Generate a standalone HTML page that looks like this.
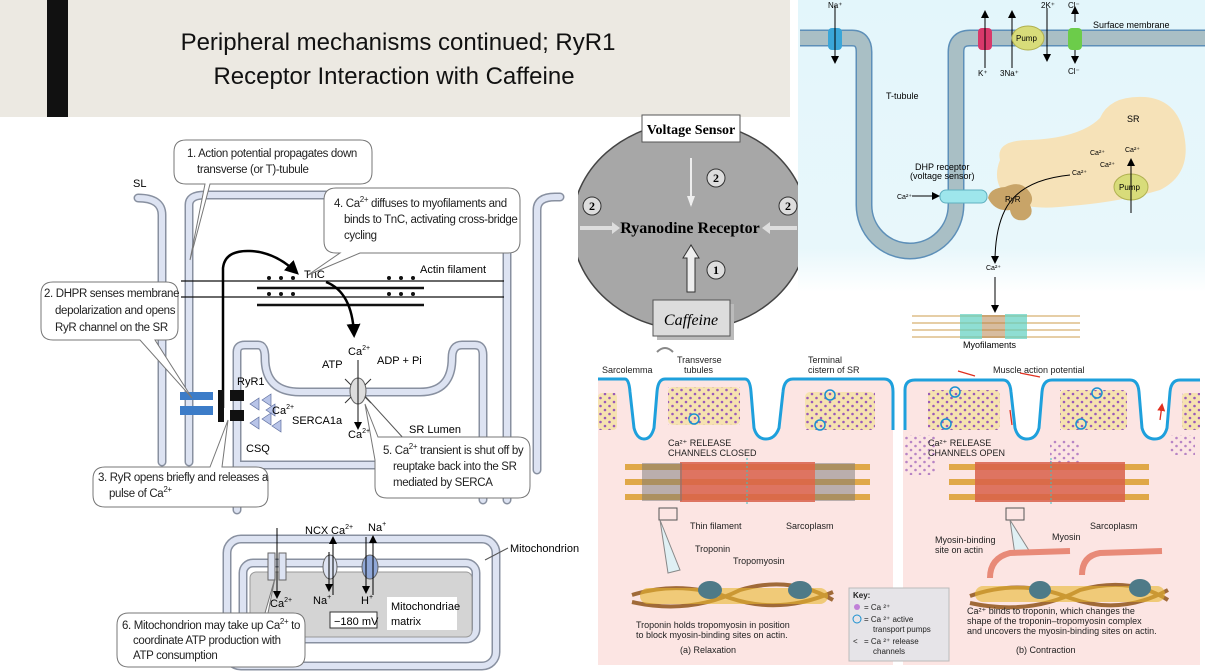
<!DOCTYPE html>
<html><head><meta charset="utf-8"><style>
html,body{margin:0;padding:0;background:#fff;}
svg{display:block;}
.t{font-family:"Liberation Sans",sans-serif;}
</style></head><body>
<svg width="1205" height="671" viewBox="0 0 1205 671" xmlns="http://www.w3.org/2000/svg" class="t">
<defs>
<linearGradient id="bl" x1="0" y1="0" x2="0" y2="1"><stop offset="0" stop-color="#e3f6fb"/><stop offset="0.85" stop-color="#e8f7fb"/><stop offset="1" stop-color="#ffffff"/></linearGradient>
<marker id="ah" markerWidth="8" markerHeight="8" refX="6" refY="4" orient="auto" markerUnits="userSpaceOnUse"><path d="M0,0 L8,4 L0,8 z" fill="#000"/></marker>
<marker id="ahb" markerWidth="14" markerHeight="14" refX="10" refY="7" orient="auto" markerUnits="userSpaceOnUse"><path d="M0,0 L14,7 L0,14 z" fill="#000"/></marker>
<marker id="ahr" markerWidth="8" markerHeight="8" refX="6" refY="4" orient="auto" markerUnits="userSpaceOnUse"><path d="M0,0 L8,4 L0,8 z" fill="#e03020"/></marker>
<pattern id="dots" width="9" height="8" patternUnits="userSpaceOnUse"><circle cx="2" cy="2" r="1.3" fill="#9a5ab8"/><circle cx="6.5" cy="6" r="1.3" fill="#9a5ab8"/></pattern>
</defs>

<rect x="798" y="0" width="407" height="292" fill="url(#bl)"/>
<path d="M800,38 L852,38 Q864,38 864,52 L864,205 A46,46 0 0 0 956,205 L956,52 Q956,38 970,38 L1205,38" fill="none" stroke="#5d8fb8" stroke-width="17"/>
<path d="M800,38 L852,38 Q864,38 864,52 L864,205 A46,46 0 0 0 956,205 L956,52 Q956,38 970,38 L1205,38" fill="none" stroke="#a9bfc5" stroke-width="14"/>
<rect x="828" y="28" width="14" height="22" rx="4" fill="#3aa6d8"/>
<line x1="835" y1="6" x2="835" y2="62" stroke="#000" marker-end="url(#ah)"/>
<text x="828" y="8" font-size="8">Na⁺</text>
<rect x="978" y="28" width="14" height="22" rx="4" fill="#d8386a"/>
<line x1="985" y1="68" x2="985" y2="12" stroke="#000" marker-end="url(#ah)"/>
<text x="978" y="76" font-size="8">K⁺</text>
<line x1="1012" y1="68" x2="1012" y2="12" stroke="#000" marker-end="url(#ah)"/>
<text x="1000" y="76" font-size="8">3Na⁺</text>
<ellipse cx="1028" cy="38" rx="16" ry="12" fill="#d8dc7a" stroke="#b0b050"/>
<text x="1016" y="41" font-size="8">Pump</text>
<line x1="1047" y1="8" x2="1047" y2="60" stroke="#000" marker-end="url(#ah)"/>
<text x="1041" y="8" font-size="8">2K⁺</text>
<rect x="1068" y="28" width="14" height="22" rx="4" fill="#6ccc4a"/>
<line x1="1075" y1="22" x2="1075" y2="8" stroke="#000" marker-end="url(#ah)"/>
<line x1="1075" y1="50" x2="1075" y2="62" stroke="#000" marker-end="url(#ah)"/>
<text x="1068" y="8" font-size="8">Cl⁻</text><text x="1068" y="74" font-size="8">Cl⁻</text>
<text x="1093" y="28" font-size="9">Surface membrane</text>
<text x="886" y="99" font-size="9">T-tubule</text>
<path d="M1000,160 Q995,140 1030,140 Q1080,138 1100,118 Q1110,95 1145,97 Q1180,100 1185,140 Q1190,175 1160,190 Q1120,202 1070,206 Q1020,212 1005,195 Q992,180 1000,160 z" fill="#f6e2b8"/>
<text x="1127" y="122" font-size="9">SR</text>
<text x="1090" y="155" font-size="7">Ca²⁺</text><text x="1125" y="152" font-size="7">Ca²⁺</text>
<text x="1100" y="167" font-size="7">Ca²⁺</text><text x="1072" y="175" font-size="7">Ca²⁺</text>
<ellipse cx="1131" cy="187" rx="17" ry="13" fill="#d8dc7a" stroke="#b0b050"/>
<text x="1119" y="190" font-size="8">Pump</text>
<line x1="1131" y1="213" x2="1131" y2="160" stroke="#000" marker-end="url(#ah)"/>
<rect x="940" y="190" width="47" height="13" rx="6" fill="#9ee6ec" stroke="#60b0c0"/>
<path d="M988,198 Q990,188 1005,187 Q1020,180 1028,190 Q1035,198 1030,205 Q1035,215 1025,220 Q1012,222 1010,210 Q995,212 988,198 z" fill="#c8a468"/>
<text x="1005" y="202" font-size="8">RyR</text>
<text x="915" y="170" font-size="9">DHP receptor</text><text x="910" y="179" font-size="9">(voltage sensor)</text>
<text x="897" y="199" font-size="7">Ca²⁺</text>
<line x1="912" y1="196" x2="938" y2="196" stroke="#000" marker-end="url(#ah)"/>
<path d="M1070,175 Q1020,180 1005,210 Q995,230 995,262" fill="none" stroke="#000" marker-end="url(#ah)"/>
<text x="986" y="270" font-size="7">Ca²⁺</text>
<line x1="995" y1="277" x2="995" y2="311" stroke="#000" marker-end="url(#ah)"/>
<g stroke-width="1.2">
<line x1="912" y1="316" x2="1080" y2="316" stroke="#d8b070"/><line x1="912" y1="323" x2="1080" y2="323" stroke="#d8b070"/>
<line x1="912" y1="330" x2="1080" y2="330" stroke="#d8b070"/><line x1="912" y1="337" x2="1080" y2="337" stroke="#d8b070"/>
</g>
<rect x="960" y="314" width="22" height="25" fill="#60d0c0" opacity="0.7"/><rect x="1005" y="314" width="22" height="25" fill="#60d0c0" opacity="0.7"/>
<rect x="982" y="315" width="23" height="23" fill="#b07a40" opacity="0.5"/>
<text x="963" y="348" font-size="9">Myofilaments</text>

<rect x="0" y="0" width="790" height="117" fill="#ece9e2"/>
<rect x="47" y="0" width="21" height="117" fill="#111"/>
<text x="398" y="50" font-size="24" text-anchor="middle" fill="#111">Peripheral mechanisms continued; RyR1</text>
<text x="394" y="84" font-size="24" text-anchor="middle" fill="#111">Receptor Interaction with Caffeine</text>

<rect x="578" y="117" width="220" height="222" fill="#fff"/>
<clipPath id="cm"><rect x="578" y="117" width="220" height="230"/></clipPath>
<g clip-path="url(#cm)">
<ellipse cx="690" cy="226" rx="118" ry="104" fill="#a7a7a7" stroke="#444" stroke-width="1.5"/>
</g>
<rect x="642" y="115" width="98" height="27" fill="#fff" stroke="#555"/>
<text x="691" y="134" font-size="14" font-weight="bold" text-anchor="middle" font-family="Liberation Serif,serif">Voltage Sensor</text>
<line x1="691" y1="158" x2="691" y2="205" stroke="#eee" stroke-width="2"/>
<path d="M687,196 L691,207 L695,196 z" fill="#eee"/>
<text x="690" y="233" font-size="16" font-weight="bold" text-anchor="middle" font-family="Liberation Serif,serif">Ryanodine Receptor</text>
<path d="M580,226 L612,226 L612,222 L620,228 L612,234 L612,230 L580,230 z" fill="#ddd"/>
<path d="M797,226 L770,226 L770,222 L762,228 L770,234 L770,230 L797,230 z" fill="#ddd"/>
<path d="M687,292 L687,258 L683,258 L691,245 L699,258 L695,258 L695,292 z" fill="#eee" stroke="#333"/>
<g font-family="Liberation Serif,serif" font-weight="bold" font-size="12" text-anchor="middle">
<circle cx="716" cy="178" r="9" fill="#ddd" stroke="#333"/><text x="716" y="182">2</text>
<circle cx="592" cy="206" r="9" fill="#ddd" stroke="#333"/><text x="592" y="210">2</text>
<circle cx="788" cy="206" r="9" fill="#ddd" stroke="#333"/><text x="788" y="210">2</text>
<circle cx="716" cy="270" r="9" fill="#ddd" stroke="#333"/><text x="716" y="274">1</text>
</g>
<rect x="657" y="304" width="77" height="36" fill="#bbb"/>
<rect x="653" y="300" width="77" height="36" fill="#dcdcdc" stroke="#555"/>
<text x="691" y="325" font-size="16" font-style="italic" text-anchor="middle" font-family="Liberation Serif,serif">Caffeine</text>
<path d="M657,352 Q665,344 673,352" fill="none" stroke="#888" stroke-width="2"/>

<g fill="none" stroke-linecap="round" stroke-linejoin="round">
<g stroke="#8890a0" stroke-width="9">
<path d="M138,198 Q162,198 162,215 L162,462 M189,462 L189,205 Q189,195 205,195 L498,195 Q507,195 507,208 L507,500"/>
<path d="M537,470 L537,210 Q537,197 555,197 L560,197"/>
<path d="M237,510 L237,352 Q237,345 245,345 L258,345 Q265,345 265,358 Q265,392 300,392 L420,392 Q452,392 452,358 Q452,345 462,345 L475,345 Q483,345 483,355 L483,500"/>
<path d="M240,465 L440,465"/>
<rect x="227" y="539" width="269" height="127" rx="14"/>
<rect x="243" y="563" width="233" height="76" rx="10"/>
</g>
<g stroke="#dde3f2" stroke-width="6">
<path d="M138,198 Q162,198 162,215 L162,462 M189,462 L189,205 Q189,195 205,195 L498,195 Q507,195 507,208 L507,500"/>
<path d="M537,470 L537,210 Q537,197 555,197 L560,197"/>
<path d="M237,510 L237,352 Q237,345 245,345 L258,345 Q265,345 265,358 Q265,392 300,392 L420,392 Q452,392 452,358 Q452,345 462,345 L475,345 Q483,345 483,355 L483,500"/>
<path d="M240,465 L440,465"/>
<rect x="227" y="539" width="269" height="127" rx="14"/>
<rect x="243" y="563" width="233" height="76" rx="10"/>
</g>
</g>
<rect x="250" y="572" width="222" height="65" rx="6" fill="#d4d4d4" stroke="#999"/>
<rect x="387" y="597" width="70" height="33" fill="#fff"/>
<text x="391" y="610" font-size="11">Mitochondriae</text><text x="391" y="625" font-size="11">matrix</text>
<rect x="330" y="612" width="47" height="16" fill="#fff" stroke="#333"/>
<text x="334" y="625" font-size="11">−180 mV</text>
<g stroke="#111">
<line x1="181" y1="281" x2="504" y2="281" stroke-width="1.2"/>
<line x1="181" y1="297" x2="504" y2="297" stroke-width="1.2"/>
<line x1="257" y1="288" x2="424" y2="288" stroke-width="2.5"/>
<line x1="257" y1="305" x2="424" y2="305" stroke-width="2.5"/>
</g>
<g fill="#111">
<circle cx="269" cy="278" r="2"/><circle cx="281" cy="278" r="2"/><circle cx="293" cy="278" r="2"/>
<circle cx="269" cy="294" r="2"/><circle cx="281" cy="294" r="2"/><circle cx="293" cy="294" r="2"/>
<circle cx="389" cy="278" r="2"/><circle cx="401" cy="278" r="2"/><circle cx="413" cy="278" r="2"/>
<circle cx="389" cy="294" r="2"/><circle cx="401" cy="294" r="2"/><circle cx="413" cy="294" r="2"/>
</g>
<text x="304" y="278" font-size="11">TnC</text>
<text x="420" y="273" font-size="11">Actin filament</text>
<path d="M223,408 L223,268 Q225,250 250,251 Q275,252 296,272" fill="none" stroke="#000" stroke-width="2.5" marker-end="url(#ahb)"/>
<path d="M326,282 Q352,292 354,334" fill="none" stroke="#000" stroke-width="2.5" marker-end="url(#ahb)"/>
<rect x="180" y="392" width="33" height="8" fill="#3c7cc8"/><rect x="180" y="406" width="33" height="9" fill="#3c7cc8"/>
<rect x="218" y="390" width="6" height="32" fill="#111"/>
<rect x="230" y="390" width="14" height="11" fill="#111"/><rect x="230" y="410" width="14" height="11" fill="#111"/>
<g fill="#b8c4e8" stroke="#6070a0" stroke-width="0.7">
<path d="M250,404 L259,398 L259,410 z"/><path d="M262,400 L271,394 L271,406 z"/><path d="M266,410 L275,404 L275,416 z"/>
<path d="M250,423 L259,417 L259,429 z"/><path d="M262,419 L271,413 L271,425 z"/><path d="M272,426 L281,420 L281,432 z"/>
</g>
<text x="237" y="385" font-size="11">RyR1</text>
<text x="272" y="414" font-size="11">Ca<tspan font-size="7" dy="-5">2+</tspan></text>
<text x="292" y="424" font-size="11">SERCA1a</text>
<text x="246" y="452" font-size="11">CSQ</text>
<ellipse cx="358" cy="391" rx="8" ry="13" fill="#ddd" stroke="#666"/>
<line x1="358" y1="360" x2="358" y2="428" stroke="#111" marker-end="url(#ah)"/>
<path d="M345,379 L351,385 M371,379 L365,385 M345,403 L351,397 M371,403 L365,397" stroke="#333"/>
<text x="348" y="355" font-size="11">Ca<tspan font-size="7" dy="-5">2+</tspan></text>
<text x="322" y="368" font-size="11">ATP</text>
<text x="377" y="364" font-size="11">ADP + Pi</text>
<text x="348" y="438" font-size="11">Ca<tspan font-size="7" dy="-5">2+</tspan></text>
<text x="409" y="433" font-size="11">SR Lumen</text>
<line x1="365" y1="396" x2="405" y2="440" stroke="#555"/>
<rect x="268" y="553" width="7" height="27" fill="#dde3f2" stroke="#666"/><rect x="279" y="553" width="7" height="27" fill="#dde3f2" stroke="#666"/>
<line x1="277" y1="528" x2="277" y2="597" stroke="#000" marker-end="url(#ah)"/>
<ellipse cx="330" cy="567" rx="7" ry="12" fill="#dde3f2" stroke="#666"/>
<ellipse cx="370" cy="567" rx="8" ry="12" fill="#90a8d8" stroke="#666"/>
<line x1="333" y1="595" x2="333" y2="538" stroke="#000" marker-end="url(#ah)"/>
<line x1="329" y1="552" x2="329" y2="590" stroke="#000" marker-end="url(#ah)"/>
<line x1="366" y1="537" x2="366" y2="592" stroke="#000" marker-end="url(#ah)"/>
<line x1="373" y1="595" x2="373" y2="537" stroke="#000" marker-end="url(#ah)"/>
<text x="305" y="534" font-size="11">NCX</text><text x="331" y="534" font-size="11">Ca<tspan font-size="7" dy="-5">2+</tspan></text>
<text x="368" y="531" font-size="11">Na<tspan font-size="7" dy="-5">+</tspan></text>
<text x="270" y="607" font-size="11">Ca<tspan font-size="7" dy="-5">2+</tspan></text>
<text x="313" y="604" font-size="11">Na<tspan font-size="7" dy="-5">+</tspan></text>
<text x="361" y="604" font-size="11">H<tspan font-size="7" dy="-5">+</tspan></text>
<text x="510" y="552" font-size="11">Mitochondrion</text>
<line x1="508" y1="548" x2="485" y2="560" stroke="#555"/>
<text x="133" y="187" font-size="11">SL</text>
<g fill="#fff" stroke="#777" stroke-width="1">
<path d="M186,140 L360,140 Q372,140 372,152 L372,172 Q372,184 360,184 L210,184 L190,260 L205,184 L186,184 Q174,184 174,172 L174,152 Q174,140 186,140 z"/>
<path d="M336,188 L508,188 Q520,188 520,200 L520,241 Q520,253 508,253 L360,253 L308,275 L340,253 L336,253 Q324,253 324,241 L324,200 Q324,188 336,188 z"/>
<path d="M53,282 L166,282 Q178,282 178,294 L178,328 Q178,340 166,340 L155,340 L192,398 L140,340 L53,340 Q41,340 41,328 L41,294 Q41,282 53,282 z"/>
<path d="M105,467 L210,467 L228,420 L222,467 L256,467 Q268,467 268,479 L268,495 Q268,507 256,507 L105,507 Q93,507 93,495 L93,479 Q93,467 105,467 z"/>
<path d="M387,437 L518,437 Q530,437 530,449 L530,486 Q530,498 518,498 L387,498 Q375,498 375,486 L375,460 L365,404 L378,437 z"/>
<path d="M129,613 L293,613 Q305,613 305,625 L305,655 Q305,667 293,667 L129,667 Q117,667 117,655 L117,625 Q117,613 129,613 L268,613 L275,578 L265,613 z"/>
</g>
<g font-size="11.5" fill="#222" letter-spacing="-0.35">
<text x="187" y="157">1.  Action potential propagates down</text>
<text x="197" y="173">transverse (or T)-tubule</text>
<text x="334" y="207">4.  Ca<tspan font-size="8" dy="-5">2+</tspan><tspan dy="5"> diffuses to myofilaments and</tspan></text>
<text x="344" y="223">binds to TnC, activating cross-bridge</text>
<text x="344" y="239">cycling</text>
<text x="44" y="297">2.  DHPR senses membrane</text>
<text x="55" y="314">depolarization and opens</text>
<text x="55" y="331">RyR channel on the SR</text>
<text x="98" y="481">3.  RyR opens briefly and releases a</text>
<text x="109" y="497">pulse of Ca<tspan font-size="8" dy="-5">2+</tspan></text>
<text x="383" y="454">5.  Ca<tspan font-size="8" dy="-5">2+</tspan><tspan dy="5"> transient is shut off by</tspan></text>
<text x="393" y="470">reuptake back into the SR</text>
<text x="393" y="486">mediated by  SERCA</text>
<text x="122" y="629">6. Mitochondrion may take up Ca<tspan font-size="8" dy="-5">2+</tspan><tspan dy="5"> to</tspan></text>
<text x="133" y="644">coordinate ATP production with</text>
<text x="133" y="659">ATP consumption</text>
</g>

<rect x="598" y="380" width="295" height="285" fill="#fce5e3"/>
<rect x="903" y="380" width="297" height="285" fill="#fce5e3"/>
<path d="M598,379 L625,379 Q629,379 630,392 L634,428 Q637,439 644,439 Q651,439 654,428 L657,392 Q658,379 665,379 L745,379 Q750,379 751,392 L754,428 Q757,439 766,439 Q775,439 779,428 L783,392 Q784,379 793,379 L884,379 Q893,379 893,392 L893,430 L898,430 L898,355 L598,355 z" fill="#fff"/>
<path d="M900,430 L905,430 L905,390 Q905,380 915,380 L1003,380 Q1010,380 1011,392 L1015,428 Q1018,439 1027,439 Q1036,439 1039,428 L1042,392 Q1043,380 1052,380 L1130,380 Q1138,380 1139,392 L1142,428 Q1145,439 1155,439 Q1164,439 1167,428 L1170,392 Q1171,380 1180,380 L1200,380 L1200,355 L900,355 z" fill="#fff"/>
<path d="M598,379 L625,379 Q629,379 630,392 L634,428 Q637,439 644,439 Q651,439 654,428 L657,392 Q658,379 665,379 L745,379 Q750,379 751,392 L754,428 Q757,439 766,439 Q775,439 779,428 L783,392 Q784,379 793,379 L884,379 Q893,379 893,392 L893,430" fill="none" stroke="#1ea0dc" stroke-width="3"/>
<path d="M905,430 L905,390 Q905,380 915,380 L1003,380 Q1010,380 1011,392 L1015,428 Q1018,439 1027,439 Q1036,439 1039,428 L1042,392 Q1043,380 1052,380 L1130,380 Q1138,380 1139,392 L1142,428 Q1145,439 1155,439 Q1164,439 1167,428 L1170,392 Q1171,380 1180,380 L1200,380" fill="none" stroke="#1ea0dc" stroke-width="3"/>
<g fill="#f6e2b0">
<rect x="598" y="393" width="19" height="37" rx="4"/><rect x="668" y="387" width="72" height="38" rx="5"/><rect x="805" y="392" width="70" height="38" rx="5"/>
<rect x="928" y="390" width="72" height="40" rx="5"/><rect x="1060" y="390" width="67" height="40" rx="5"/><rect x="1182" y="393" width="18" height="37" rx="4"/>
</g>
<g fill="url(#dots)">
<rect x="598" y="393" width="19" height="37"/><rect x="668" y="387" width="72" height="38"/><rect x="805" y="392" width="70" height="38"/>
<rect x="928" y="390" width="72" height="40"/><rect x="1060" y="390" width="67" height="40"/><rect x="1182" y="393" width="18" height="37"/>
<rect x="905" y="435" width="30" height="40" opacity="0.7"/><rect x="1050" y="440" width="30" height="25" opacity="0.7"/><rect x="1170" y="435" width="25" height="20" opacity="0.7"/>
</g>
<g fill="none" stroke="#1a90d0" stroke-width="1.5">
<circle cx="694" cy="419" r="5"/><circle cx="830" cy="395" r="5"/><circle cx="820" cy="425" r="5"/>
<circle cx="955" cy="392" r="5"/><circle cx="946" cy="424" r="5"/><circle cx="1097" cy="393" r="5"/><circle cx="1081" cy="424" r="5"/>
</g>
<path d="M958,371 L975,376 M1020,373 L1040,377 M1010,410 L1012,425 M1160,420 L1162,405" stroke="#e03020" stroke-width="1.3" fill="none" marker-end="url(#ahr)"/>
<g>
<rect x="625" y="464" width="245" height="6" fill="#e0a848"/><rect x="625" y="479" width="245" height="6" fill="#e0a848"/><rect x="625" y="494" width="245" height="6" fill="#e0a848"/>
<rect x="680" y="462" width="135" height="40" fill="#d8604a" opacity="0.85"/>
<rect x="642" y="463" width="40" height="38" fill="#777" opacity="0.5"/><rect x="815" y="463" width="40" height="38" fill="#777" opacity="0.5"/>
<line x1="747" y1="458" x2="747" y2="506" stroke="#40c0c0" stroke-dasharray="2,2"/>
<rect x="949" y="464" width="200" height="6" fill="#e0a848"/><rect x="949" y="479" width="200" height="6" fill="#e0a848"/><rect x="949" y="494" width="200" height="6" fill="#e0a848"/>
<rect x="975" y="462" width="150" height="40" fill="#d8604a" opacity="0.85"/>
<line x1="1051" y1="458" x2="1051" y2="506" stroke="#40c0c0" stroke-dasharray="2,2"/>
</g>
<rect x="659" y="508" width="18" height="12" fill="none" stroke="#555"/>
<rect x="1006" y="508" width="18" height="12" fill="none" stroke="#555"/>
<path d="M660,520 L680,570 L668,573 z" fill="#e0f0f4" stroke="#888"/>
<path d="M1010,520 L1030,552 L1015,555 z" fill="#e0f0f4" stroke="#888"/>
<g transform="translate(0,-30)">
<path d="M632,625 Q680,610 730,628 Q780,645 833,622" stroke="#a06a38" stroke-width="4" fill="none"/>
<path d="M632,632 Q690,645 740,620 Q790,605 833,630" stroke="#a06a38" stroke-width="4" fill="none"/>
<rect x="640" y="618" width="188" height="16" rx="8" fill="#e8b830" opacity="0.6"/>
<ellipse cx="710" cy="620" rx="12" ry="9" fill="#4e7a88"/><ellipse cx="800" cy="620" rx="12" ry="9" fill="#4e7a88"/>
</g>
<g transform="translate(0,-22)">
<path d="M970,618 Q1020,600 1070,620 Q1120,638 1168,612" stroke="#a06a38" stroke-width="4" fill="none"/>
<path d="M970,625 Q1030,638 1080,612 Q1130,598 1168,622" stroke="#a06a38" stroke-width="4" fill="none"/>
<rect x="975" y="608" width="190" height="16" rx="8" fill="#e8b830" opacity="0.6"/>
<ellipse cx="1040" cy="612" rx="11" ry="9" fill="#4e7a88"/><ellipse cx="1140" cy="610" rx="11" ry="9" fill="#4e7a88"/>
<path d="M990,600 Q990,580 1010,575 L1070,573" stroke="#e88a78" stroke-width="6" fill="none"/>
<path d="M1082,597 Q1082,578 1100,575 L1162,573" stroke="#e88a78" stroke-width="6" fill="none"/>
</g>
<g font-size="9" fill="#222">
<text x="602" y="373">Sarcolemma</text>
<text x="677" y="363">Transverse</text><text x="684" y="373">tubules</text>
<text x="808" y="363">Terminal</text><text x="808" y="373">cistern of SR</text>
<text x="993" y="373">Muscle action potential</text>
<text x="668" y="446">Ca²⁺ RELEASE</text><text x="668" y="456">CHANNELS CLOSED</text>
<text x="928" y="446">Ca²⁺ RELEASE</text><text x="928" y="456">CHANNELS OPEN</text>
<text x="690" y="529">Thin filament</text><text x="786" y="529">Sarcoplasm</text>
<text x="1090" y="529">Sarcoplasm</text>
<text x="695" y="552">Troponin</text><text x="733" y="564">Tropomyosin</text>
<text x="935" y="543">Myosin-binding</text><text x="935" y="553">site on actin</text>
<text x="1052" y="540">Myosin</text>
<text x="636" y="628">Troponin holds tropomyosin in position</text>
<text x="636" y="638">to block myosin-binding sites on actin.</text>
<text x="680" y="653">(a) Relaxation</text>
<text x="967" y="614">Ca²⁺ binds to troponin, which changes the</text>
<text x="967" y="624">shape of the troponin–tropomyosin complex</text>
<text x="967" y="634">and uncovers the myosin-binding sites on actin.</text>
<text x="1016" y="653">(b) Contraction</text>
</g>
<rect x="849" y="588" width="100" height="73" fill="#e6e4e8" stroke="#bbb"/>
<g font-size="8" fill="#222">
<text x="853" y="598" font-weight="bold">Key:</text>
<circle cx="857" cy="607" r="3" fill="#c080d8"/><text x="864" y="610">= Ca ²⁺</text>
<circle cx="857" cy="619" r="4" fill="none" stroke="#1a90d0"/><text x="864" y="622">= Ca ²⁺ active</text>
<text x="873" y="632">transport pumps</text>
<text x="853" y="644">&lt;</text><text x="864" y="644">= Ca ²⁺ release</text>
<text x="873" y="654">channels</text>
</g>
</svg>
</body></html>
